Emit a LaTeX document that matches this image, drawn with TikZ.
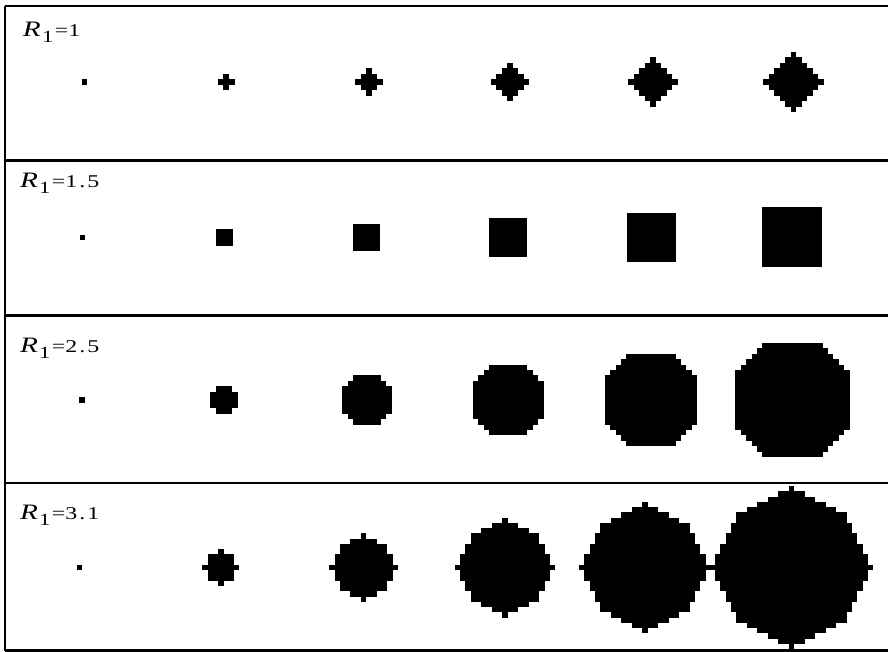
\documentclass[tikz,border=0pt]{standalone}
\usepackage{fontspec}
\usepackage{graphicx}
\setmainfont{Liberation Serif}
\tikzset{
  frameline/.style={line width=2.6pt, black},
  rowlabel/.style={anchor=base west, inner sep=0pt, outer sep=0pt},
}
\newcommand{\Rlab}[1]{\scalebox{1.33}[1]{{\fontsize{22}{22}\selectfont\itshape R}\kern1pt\raisebox{-6pt}{\fontsize{17}{17}\selectfont 1}\kern1pt{\fontsize{18}{18}\selectfont #1}}}
\def\eps{0.03}
\begin{document}
\begin{tikzpicture}[x=1pt,y=-1pt]
\useasboundingbox (0,0) rectangle (888,652);
\fill[white] (0,0) rectangle (888,652);

% ---------- Row 1 : R1 = 1 (diamonds) ----------
\def\s{5.45}\def\cy{82}
\foreach \cx [count=\c from 0] in {84.5,226.3,369,510,653,793.5} {
  \pgfmathtruncatemacro\n{2*\c}
  \foreach \j in {0,...,\n} {
    \pgfmathsetmacro\xx{\j-\c}
    \pgfmathsetmacro\m{\c-abs(\xx)}
    \fill[black] ({\cx+(\xx-0.5-\eps)*\s},{\cy-(\m+0.5+\eps)*\s}) rectangle ({\cx+(\xx+0.5+\eps)*\s},{\cy+(\m+0.5+\eps)*\s});
  }
}

% ---------- Row 2 : R1 = 1.5 (squares) ----------
\def\s{5.47}\def\cy{237.4}
\foreach \cx [count=\c from 0] in {82.3,224.4,366.8,508,651.5,792.3} {
  \fill[black] ({\cx-(\c+0.5)*\s},{\cy-(\c+0.5)*\s}) rectangle ({\cx+(\c+0.5)*\s},{\cy+(\c+0.5)*\s});
}

% ---------- Row 3 : R1 = 2.5 (octagons) ----------
\def\s{5.43}\def\cy{400}
\foreach \cx [count=\c from 0] in {82.3,224,367,508.3,651,792.5} {
  \pgfmathtruncatemacro\n{4*\c}
  \foreach \j in {0,...,\n} {
    \pgfmathsetmacro\xx{\j-2*\c}
    \pgfmathsetmacro\m{min(2*\c,3*\c-abs(\xx))}
    \fill[black] ({\cx+(\xx-0.5-\eps)*\s},{\cy-(\m+0.5+\eps)*\s}) rectangle ({\cx+(\xx+0.5+\eps)*\s},{\cy+(\m+0.5+\eps)*\s});
  }
}

% ---------- Row 4 : R1 = 3.1 ----------
\def\s{5.25}\def\cy{567.6}
\foreach \cx [count=\c from 0] in {79.5,220.8,363.7,505,645,791.5} {
  \pgfmathtruncatemacro\n{2*\c}
  \foreach \p in {0,...,\n} {
    \pgfmathtruncatemacro\aa{\p-\c}
    \pgfmathtruncatemacro\r{\c-abs(\aa)}
    \pgfmathtruncatemacro\nn{2*\r}
    \foreach \q in {0,...,\nn} {
      \pgfmathtruncatemacro\bb{\q-\r}
      \pgfmathsetmacro\h{2*(\r-abs(\bb))+0.5+\eps}
      \fill[black] ({\cx+(3*\aa-\h)*\s},{\cy+(3*\bb-\h)*\s}) rectangle ({\cx+(3*\aa+\h)*\s},{\cy+(3*\bb+\h)*\s});
    }
  }
}

% ---------- frame ----------
\coordinate (tl) at (4.7,5.8);
\coordinate (bl) at (4.7,650.6);
\coordinate (l1) at (4.7,160.7);
\coordinate (l2) at (4.7,315.5);
\coordinate (l3) at (4.7,483);
\draw[frameline, line width=2.2pt] (tl) -- (bl);
\draw[frameline, line width=2.2pt] (tl) -- (888,5.8);
\draw[frameline] (l1) -- (888,160.7);
\draw[frameline] (l2) -- (888,315.5);
\draw[frameline] (l3) -- (888,483);
\draw[frameline] (bl) -- (888,650.6);

% ---------- labels ----------
\node[rowlabel] (lab1) at (23,37) {\Rlab{=1}};
\node[rowlabel] (lab2) at (20,187.7) {\Rlab{=1\kern1.5pt.\kern1.5pt5}};
\node[rowlabel] (lab3) at (20,352) {\Rlab{=2\kern1.5pt.\kern1.5pt5}};
\node[rowlabel] (lab4) at (20,519) {\Rlab{=3\kern1.5pt.\kern1.5pt1}};
\end{tikzpicture}
\end{document}
